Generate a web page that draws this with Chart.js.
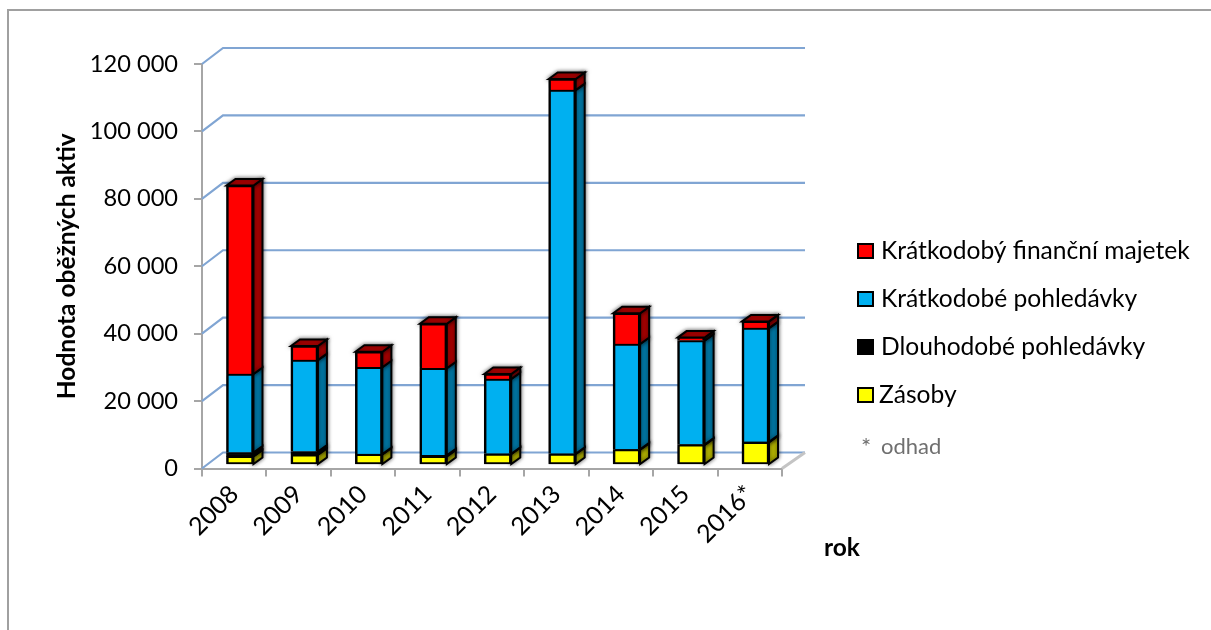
<!DOCTYPE html>
<html>
<head>
<meta charset="utf-8">
<style>
  html, body { margin: 0; padding: 0; background: #fff; }
  #wrap { width: 1211px; height: 630px; }
</style>
<script src="https://cdn.jsdelivr.net/npm/chart.js@4"></script>
</head>
<body>
<div id="wrap"><canvas id="myChart" width="1211" height="630"></canvas></div>
<script>
var years = ["2008","2009","2010","2011","2012","2013","2014","2015","2016*"];
var zasoby = [2550,3050,3150,2550,3250,3250,4550,5950,6750];
var dlouhodobe = [1150,950,100,300,100,100,100,100,100];
var kratkodobe = [23300,27100,25750,25850,22150,107850,31250,30850,33750];
var financni = [55900,4200,4600,13200,1500,3300,9100,900,2000];
var yTickLabels = ["0","20 000","40 000","60 000","80 000","100 000","120 000"];

var fontName = "Lato, sans-serif";
var axisGray = "#a6a6a6";
var gridBlue = "#80a5d3";

// fake 3D look: back wall lines, bar sides and the legend are painted here
var fake3d = {
  id: "fake3d",
  beforeDraw: function(chart) {
    var c = chart.ctx;
    c.save();
    c.strokeStyle = "#a0a0a0";
    c.lineWidth = 2;
    c.beginPath();
    c.moveTo(1211, 10); c.lineTo(8, 10); c.lineTo(8, 630);
    c.stroke();
    c.restore();
  },
  beforeDatasetsDraw: function(chart) {
    var c = chart.ctx, y = chart.scales.y, a = chart.chartArea;
    c.save();
    c.lineWidth = 2.2;
    c.strokeStyle = gridBlue;
    y.ticks.forEach(function(t) {
      var py = y.getPixelForValue(t.value);
      c.beginPath();
      c.moveTo(a.left, py);
      c.lineTo(a.left + 21, py - 16);
      c.lineTo(a.right + 23, py - 16);
      c.stroke();
    });
    c.strokeStyle = "#c4c4c4";
    c.lineWidth = 3;
    c.beginPath();
    c.moveTo(a.right, a.bottom); c.lineTo(a.right + 23, a.bottom - 16);
    c.stroke();
    c.restore();

    // everything from here on sits a bit back from the front axis
    c.save();
    c.translate(5.75, -3.5);
    c.shadowColor = "rgba(0,0,0,0.6)";
    c.shadowBlur = 4;
    c.lineWidth = 2;
    c.strokeStyle = "#000";
    var last = chart.data.datasets.length - 1;
    chart.data.datasets.forEach(function(ds, i) {
      chart.getDatasetMeta(i).data.forEach(function(bar) {
        var p = bar.getProps(["x", "y", "base", "width"], true);
        var r = p.x + p.width / 2, l = p.x - p.width / 2;
        c.fillStyle = ds.sideColor;
        c.beginPath();
        c.moveTo(r, p.y); c.lineTo(r + 9, p.y - 6.5);
        c.lineTo(r + 9, p.base - 6.5); c.lineTo(r, p.base);
        c.closePath();
        c.fill(); c.stroke();
        if (i === last) {
          c.fillStyle = ds.topColor;
          c.beginPath();
          c.moveTo(l, p.y); c.lineTo(l + 9, p.y - 6.5);
          c.lineTo(r + 9, p.y - 6.5); c.lineTo(r, p.y);
          c.closePath();
          c.fill(); c.stroke();
        }
      });
    });
  },
  afterDatasetsDraw: function(chart) {
    var c = chart.ctx;
    c.restore();

    // legend, top row is the last dataset
    var rowY = [251, 299, 347, 395];
    c.save();
    c.font = "24.6px " + fontName;
    c.textBaseline = "middle";
    chart.data.datasets.slice().reverse().forEach(function(ds, i) {
      c.fillStyle = "#000";
      c.fillRect(857, rowY[i] - 8, 17, 16);
      c.fillStyle = ds.backgroundColor;
      c.fillRect(859, rowY[i] - 6, 13, 12);
      c.fillStyle = "#000";
      c.fillText(ds.label, i === 3 ? 879 : 881, rowY[i]);
    });
    c.fillStyle = "#6f6f6f";
    c.font = "24px " + fontName;
    c.fillText("*", 861, 447);
    c.font = "22px " + fontName;
    c.fillText("odhad", 881, 447);
    c.fillStyle = "#000";
    c.font = "bold 24.5px " + fontName;
    c.fillText("rok", 824, 548);
    c.restore();
  }
};

function series(label, values, color, sideColor, topColor, first) {
  return {
    label: label,
    data: values,
    backgroundColor: color,
    sideColor: sideColor,
    topColor: topColor,
    borderColor: "#000",
    borderWidth: { top: 2, left: 2.5, right: 2.5, bottom: first ? 2 : 0 },
    borderSkipped: false,
    clip: false
  };
}

new Chart("myChart", {
  type: "bar",
  data: {
    labels: years,
    datasets: [
      series("Zásoby", zasoby, "#ffff00", "#b5b500", "#b5b500", true),
      series("Dlouhodobé pohledávky", dlouhodobe, "#000000", "#000000", "#000000"),
      series("Krátkodobé pohledávky", kratkodobe, "#00b0f0", "#0078a6", "#0078a6"),
      series("Krátkodobý finanční majetek", financni, "#ff0000", "#a80000", "#b80000")
    ]
  },
  plugins: [fake3d],
  options: {
    responsive: false,
    animation: false,
    barThickness: 27,
    layout: { padding: { left: 52, top: 64, right: 429, bottom: 0 } },
    plugins: { legend: { display: false }, tooltip: { enabled: false } },
    scales: {
      x: {
        stacked: true,
        afterFit: function(s) { s.height = 161.5; },
        border: { color: axisGray, width: 2 },
        grid: { drawOnChartArea: false, color: axisGray, lineWidth: 2, tickLength: 8 },
        ticks: {
          color: "#000",
          font: { family: fontName, size: 25 },
          minRotation: 45,
          maxRotation: 45,
          padding: 3
        }
      },
      y: {
        stacked: true,
        min: 0,
        max: 120000,
        afterFit: function(s) { s.width = 150; },
        border: { color: axisGray, width: 2 },
        grid: { drawOnChartArea: false, color: axisGray, lineWidth: 2, tickLength: 8 },
        title: {
          display: true,
          text: "Hodnota oběžných aktiv",
          color: "#000",
          font: { family: fontName, size: 24.5, weight: "bold" },
          padding: 0
        },
        ticks: {
          stepSize: 20000,
          color: "#000",
          padding: 16,
          font: { family: fontName, size: 23.6 },
          callback: function(v, i) { return yTickLabels[i]; }
        }
      }
    }
  }
});
</script>
</body>
</html>
